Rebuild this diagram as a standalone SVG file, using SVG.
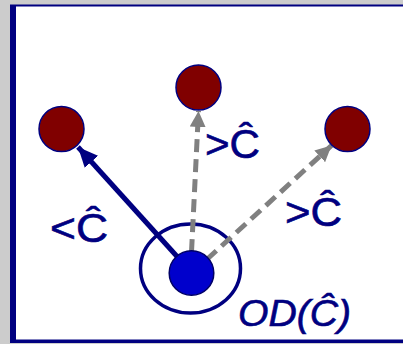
<svg xmlns="http://www.w3.org/2000/svg" width="403" height="344" viewBox="0 0 403 344">
<style>
.lbl{font-family:"Liberation Sans",Arial,sans-serif;fill:#000080;stroke:#000080;stroke-width:0.6;font-size:40px}
.other{fill:#800000;stroke:#000080;stroke-width:1.5}
.dash{stroke:#808080;stroke-width:5;stroke-dasharray:13 7;fill:none}
</style>
<defs>
<marker id="ah-navy" markerUnits="userSpaceOnUse" markerWidth="22" markerHeight="18" refX="20" refY="9" orient="auto">
<path d="M0,0 L20,9 L0,18 Z" fill="#000080"/>
</marker>
<marker id="ah-gray" markerUnits="userSpaceOnUse" markerWidth="18" markerHeight="16" refX="16" refY="8" orient="auto">
<path d="M0,0 L16,8 L0,16 Z" fill="#808080"/>
</marker>
</defs>
<rect x="0" y="0" width="403" height="344" fill="#cccccc"/>
<rect x="10" y="4.5" width="393" height="338.5" fill="#000080"/>
<rect x="16" y="6.5" width="387" height="333" fill="#ffffff"/>

<g id="scope">
<ellipse cx="190.5" cy="268.5" rx="50" ry="44.5" fill="none" stroke="#000080" stroke-width="3.5"/>
</g>

<g id="connectors">
<line x1="192" y1="273" x2="78" y2="147" stroke="#000080" stroke-width="5" marker-end="url(#ah-navy)"/>
<line x1="191.5" y1="252" x2="198.5" y2="111" class="dash" marker-end="url(#ah-gray)"/>
<line x1="192" y1="273" x2="331.5" y2="145.5" class="dash" marker-end="url(#ah-gray)"/>
</g>

<g id="node-left"><circle cx="61.5" cy="129" r="22.5" class="other"/></g>
<g id="node-top"><circle cx="198.5" cy="87.5" r="22.5" class="other"/></g>
<g id="node-right"><circle cx="347.5" cy="129" r="22.5" class="other"/></g>
<g id="node-center"><circle cx="191.5" cy="273" r="22.3" fill="#0000cc" stroke="#000066" stroke-width="1.5"/></g>

<g id="labels">
<text class="lbl" x="50" y="242" textLength="58" lengthAdjust="spacingAndGlyphs">&lt;Ĉ</text>
<text class="lbl" x="205" y="158" textLength="55" lengthAdjust="spacingAndGlyphs">&gt;Ĉ</text>
<text class="lbl" x="285" y="226" textLength="57" lengthAdjust="spacingAndGlyphs">&gt;Ĉ</text>
<text class="lbl" x="238" y="326" style="font-size:37px;font-style:italic" textLength="113" lengthAdjust="spacingAndGlyphs">OD(Ĉ)</text>
</g>
</svg>
